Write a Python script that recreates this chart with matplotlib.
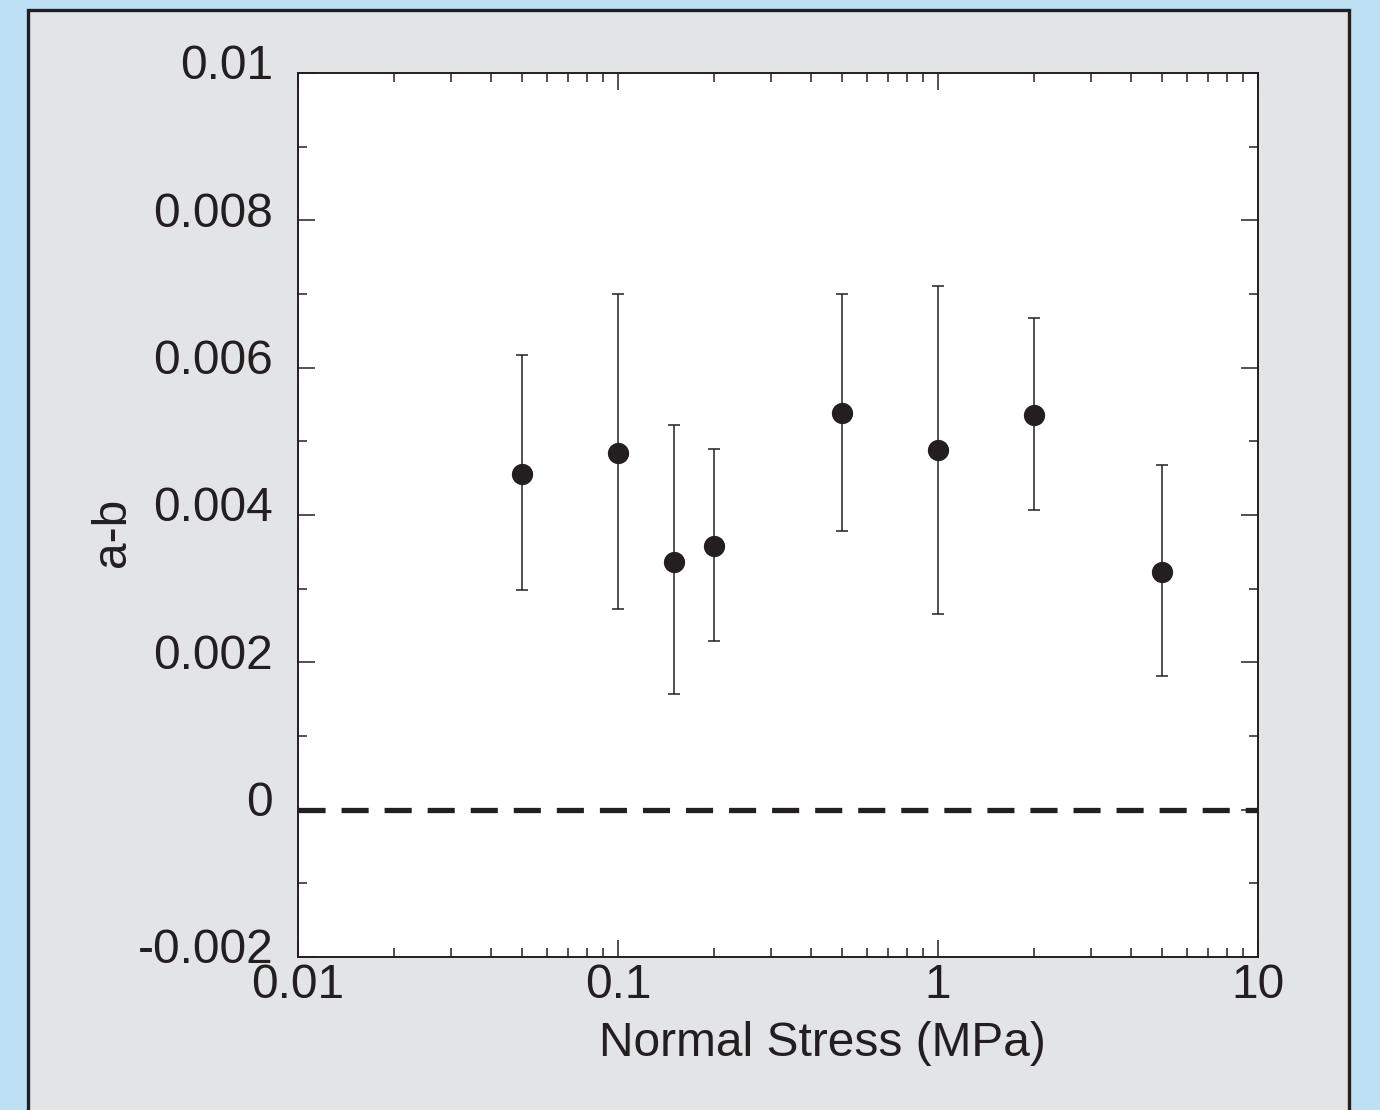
import matplotlib
matplotlib.use("Agg")
import matplotlib.pyplot as plt
from matplotlib.patches import Rectangle
from matplotlib.ticker import FixedLocator, LogLocator, NullFormatter
import matplotlib.transforms as mtransforms

plt.rcParams['font.family'] = ['Liberation Sans', 'DejaVu Sans']
plt.rcParams['lines.scale_dashes'] = False

# Data
normal_stress = [0.05, 0.1, 0.15, 0.2, 0.5, 1.0, 2.0, 5.0]
a_minus_b = [0.00456, 0.00484, 0.00336, 0.00358, 0.00538, 0.00488, 0.00536, 0.00323]
err_upper = [0.00617, 0.00700, 0.00522, 0.00490, 0.00700, 0.00711, 0.00667, 0.00468]
err_lower = [0.00298, 0.00272, 0.00157, 0.00229, 0.00378, 0.00266, 0.00407, 0.00181]

y_ticks = [-0.002, 0.0, 0.002, 0.004, 0.006, 0.008, 0.01]
y_tick_labels = ["-0.002", "0", "0.002", "0.004", "0.006", "0.008", "0.01"]
x_ticks = [0.01, 0.1, 1, 10]
x_tick_labels = ["0.01", "0.1", "1", "10"]

W, H = 1380, 1110
DPI = 100
BLUE = "#bee0f4"
GRAY = "#e3e4e6"
DARK = "#231f20"
FS = 34.5

fig = plt.figure(figsize=(W / DPI, H / DPI), dpi=DPI, facecolor=BLUE)

def px(x, y):
    return x / W, 1 - y / H

x0, y0 = px(28, 1130)
x1, y1 = px(1349, 10)
panel = Rectangle((x0, y0), x1 - x0, y1 - y0, transform=fig.transFigure,
                  facecolor=GRAY, edgecolor=DARK, linewidth=2.4, zorder=-5)
fig.patches.append(panel)

ax = fig.add_axes([298 / W, 1 - 957 / H, (1258 - 298) / W, (957 - 73) / H])
ax.set_zorder(2)
ax.set_facecolor("white")
ax.set_xscale("log")
ax.set_xlim(0.01, 10)
ax.set_ylim(-0.002, 0.01)

lower = [m - l for m, l in zip(a_minus_b, err_lower)]
upper = [u - m for m, u in zip(a_minus_b, err_upper)]
ax.errorbar(normal_stress, a_minus_b, yerr=[lower, upper], fmt='o',
            color=DARK, ecolor=DARK, markersize=14.3, elinewidth=1.1,
            capsize=4.3, capthick=1.1, zorder=3)

ax.axhline(0, color=DARK, linewidth=3.8, dashes=(19.5, 11.5), zorder=2)

for sp in ax.spines.values():
    sp.set_color(DARK)
    sp.set_linewidth(1.4)

ax.yaxis.set_major_locator(FixedLocator(y_ticks))
ax.set_yticklabels(y_tick_labels)
ax.yaxis.set_minor_locator(FixedLocator([-0.001, 0.001, 0.003, 0.005, 0.007, 0.009]))
ax.xaxis.set_major_locator(FixedLocator(x_ticks))
ax.set_xticklabels(x_tick_labels)
ax.xaxis.set_minor_locator(LogLocator(base=10, subs=range(2, 10)))
ax.xaxis.set_minor_formatter(NullFormatter())

ax.tick_params(which='both', direction='in', top=True, right=True,
               color=DARK, width=1.1, labelcolor=DARK, labelsize=FS)
ax.tick_params(which='major', length=12.5)
ax.tick_params(which='minor', length=6.5)
ax.tick_params(axis='y', pad=18)
ax.tick_params(axis='x', pad=4)

offset = mtransforms.ScaledTranslation(0, 8 / 72, fig.dpi_scale_trans)
for lbl in ax.get_yticklabels():
    lbl.set_transform(lbl.get_transform() + offset)

fig.text(822 / W, 1 - 1043 / H, "Normal Stress (MPa)", ha='center', va='center',
         fontsize=FS, color=DARK)
fig.text(113 / W, 1 - 532 / H, "a-b", ha='center', va='center', rotation=90,
         fontsize=FS, color=DARK)

fig.savefig("out.png", dpi=DPI, facecolor=BLUE)
